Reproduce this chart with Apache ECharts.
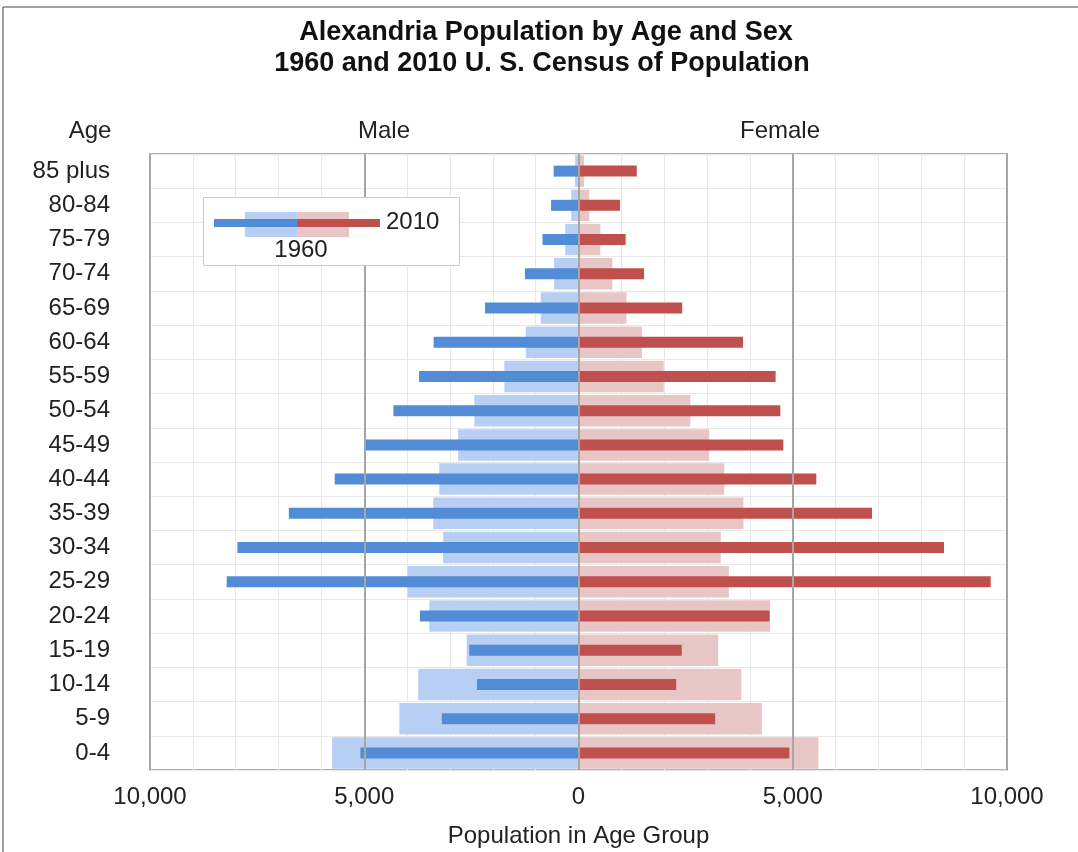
<!DOCTYPE html>
<html>
<head>
<meta charset="utf-8">
<script src="https://cdn.jsdelivr.net/npm/echarts@6/dist/echarts.min.js"></script>
<style>
html,body{margin:0;padding:0;background:#fff;}
#chart{width:1078px;height:852px;}
</style>
</head>
<body>
<div id="chart"></div>
<script>
const ageGroups = ['0-4','5-9','10-14','15-19','20-24','25-29','30-34','35-39','40-44','45-49','50-54','55-59','60-64','65-69','70-74','75-79','80-84','85 plus'];
const male1960   = [5750, 4180, 3740, 2610, 3480, 3990, 3160, 3390, 3250, 2810, 2430, 1730, 1230, 880, 570, 310, 170, 80];
const male2010   = [5090, 3190, 2370, 2550, 3700, 8210, 7960, 6760, 5690, 4970, 4320, 3720, 3380, 2180, 1250, 840, 640, 580];
const female1960 = [5600, 4280, 3800, 3260, 4470, 3510, 3320, 3850, 3400, 3050, 2610, 1990, 1480, 1120, 790, 510, 250, 130];
const female2010 = [4920, 3190, 2280, 2410, 4460, 9620, 8530, 6850, 5550, 4780, 4710, 4600, 3840, 2420, 1530, 1100, 970, 1360];
const xTicks = [-10000, -5000, 0, 5000, 10000];

const chart = echarts.init(document.getElementById('chart'));
const FONT = 'Liberation Sans, Arial, sans-serif';
const neg = a => a.map(v => -v);

chart.setOption({
  animation: false,
  backgroundColor: '#fff',
  textStyle: { fontFamily: FONT },
  grid: { left: 150, right: 71, top: 154, bottom: 82, show: true, borderColor: '#b3b3b3', borderWidth: 2,
    containLabel: false, outerBoundsMode: 'none' },
  xAxis: {
    type: 'value', min: -10000, max: 10000, interval: 5000,
    axisLine: { show: false }, axisTick: { show: false },
    axisLabel: { margin: 15, fontSize: 24, color: '#222', fontFamily: FONT,
      formatter: v => xTicks.includes(v) ? Math.abs(v).toLocaleString('en-US') : '' },
    splitLine: { show: true, lineStyle: { color: '#a6a6a6', width: 2 } },
    minorTick: { show: false, splitNumber: 5 },
    minorSplitLine: { show: true, lineStyle: { color: '#e8e8e8', width: 1 } },
    name: 'Population in Age Group', nameLocation: 'middle', nameGap: 54,
    nameTextStyle: { fontSize: 24, color: '#222', fontFamily: FONT }
  },
  yAxis: [
    { type: 'category', data: ageGroups,
      axisLine: { show: false }, axisTick: { show: false },
      axisLabel: { margin: 40, fontSize: 24, color: '#222', fontFamily: FONT },
      splitLine: { show: true, lineStyle: { color: '#e8e8e8', width: 1 } } },
    { type: 'category', data: ageGroups, show: false, position: 'left' }
  ],
  series: [
    { name: 'Male 1960', type: 'bar', data: neg(male1960), barWidth: '92%', stack: 'y1960',
      itemStyle: { color: '#b8cff4' }, z: 2 },
    { name: 'Female 1960', type: 'bar', data: female1960, barWidth: '92%', stack: 'y1960',
      itemStyle: { color: '#e9c6c6' }, z: 2 },
    { name: 'Male 2010', type: 'bar', yAxisIndex: 1, data: neg(male2010), barWidth: 11, stack: 'y2010',
      itemStyle: { color: '#528bd6' }, z: 3 },
    { name: 'Female 2010', type: 'bar', yAxisIndex: 1, data: female2010, barWidth: 11, stack: 'y2010',
      itemStyle: { color: '#c0504d' }, z: 3,
      markLine: { silent: true, symbol: 'none', label: { show: false }, z: 5,
        lineStyle: { color: '#a6a6a6', width: 2, type: 'solid' },
        data: xTicks.slice(1, 4).map(v => ({ xAxis: v })) } }
  ],
  graphic: [
    { type: 'rect', z: 100, shape: { x: 3, y: 7, width: 1090, height: 860 }, style: { fill: 'none', stroke: '#444', lineWidth: 1 }, silent: true },
    { type: 'text', z: 100, x: 546, y: 33, style: { text: 'Alexandria Population by Age and Sex', font: 'bold 27px ' + FONT, fill: '#111', textAlign: 'center', textVerticalAlign: 'middle' } },
    { type: 'text', z: 100, x: 542, y: 64, style: { text: '1960 and 2010 U. S. Census of Population', font: 'bold 27px ' + FONT, fill: '#111', textAlign: 'center', textVerticalAlign: 'middle' } },
    { type: 'text', z: 100, x: 90, y: 131, style: { text: 'Age', font: '24px ' + FONT, fill: '#222', textAlign: 'center', textVerticalAlign: 'middle' } },
    { type: 'text', z: 100, x: 384, y: 131, style: { text: 'Male', font: '24px ' + FONT, fill: '#222', textAlign: 'center', textVerticalAlign: 'middle' } },
    { type: 'text', z: 100, x: 780, y: 131, style: { text: 'Female', font: '24px ' + FONT, fill: '#222', textAlign: 'center', textVerticalAlign: 'middle' } },
    { type: 'group', z: 100, children: [
      { type: 'rect', z: 100, shape: { x: 203.5, y: 197.5, width: 256, height: 68 }, style: { fill: '#fff', stroke: '#cccccc', lineWidth: 1 } },
      { type: 'rect', z: 101, shape: { x: 245, y: 212, width: 52, height: 25 }, style: { fill: '#b8cff4' } },
      { type: 'rect', z: 101, shape: { x: 297, y: 212, width: 52, height: 25 }, style: { fill: '#e9c6c6' } },
      { type: 'rect', z: 102, shape: { x: 214, y: 219, width: 83, height: 8 }, style: { fill: '#528bd6' } },
      { type: 'rect', z: 102, shape: { x: 297, y: 219, width: 83, height: 8 }, style: { fill: '#c0504d' } },
      { type: 'text', z: 102, x: 386, y: 222, style: { text: '2010', font: '24px ' + FONT, fill: '#222', textAlign: 'left', textVerticalAlign: 'middle' } },
      { type: 'text', z: 102, x: 301, y: 250, style: { text: '1960', font: '24px ' + FONT, fill: '#222', textAlign: 'center', textVerticalAlign: 'middle' } }
    ]}
  ]
});
</script>
</body>
</html>
